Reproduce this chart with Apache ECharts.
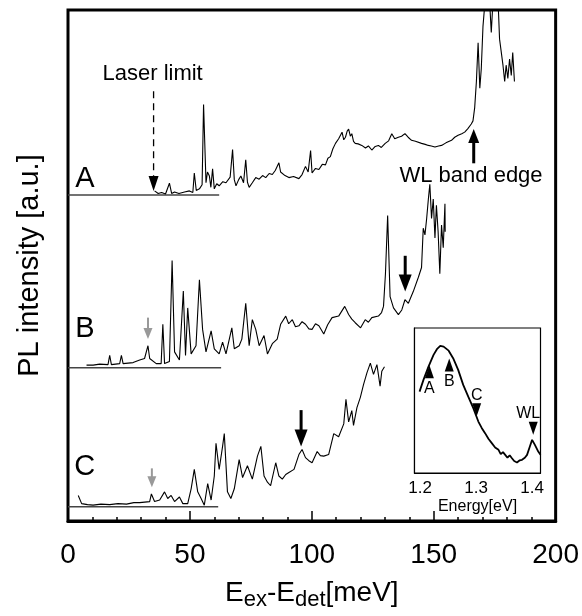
<!DOCTYPE html>
<html><head><meta charset="utf-8">
<script src="https://cdn.jsdelivr.net/npm/echarts@6/dist/echarts.min.js"></script>
<style>html,body{margin:0;padding:0;background:#fff}#c{width:582px;height:616px}</style>
</head><body><div id="c"></div>
<script>
// ---- data (meV, intensity a.u. relative to each trace's baseline) ----
const xTickValues = [0, 50, 100, 150, 200];
const traceNames = ['A', 'B', 'C'];
const traceOffsets = [63.8, 30.0, 2.8];
const baselineEnds = [62, 62.8, 61.6];

const specA = [[35.5,0.8],[37,0.3],[38.4,0.5],[40,0.2],[41.6,2.3],[42.5,0.3],[43.7,0.6],[45.5,0.3],[47.8,0.6],[49.8,0.8],[51.2,0.5],[51.8,4.3],[52.6,0.9],[53.9,1.2],[55.0,2.0],[55.6,17.7],[56.6,2.4],[57.2,4.5],[58.0,3.7],[58.6,1.5],[59.3,5.1],[60.0,1.2],[61,2.2],[62.0,1.8],[63.5,2.6],[64.8,2.4],[66.5,3.5],[67.5,8.9],[68.2,3.0],[68.9,1.8],[70.0,3.0],[70.9,3.7],[72.0,2.4],[72.9,6.9],[73.6,2.5],[74.3,1.5],[75.6,2.4],[77,3.4],[78.4,3.1],[79.8,3.8],[81.1,3.4],[82.5,4.2],[83.8,4.0],[85,4.8],[86.5,6.3],[87.2,4.5],[87.9,4.3],[89,3.8],[90.6,3.4],[92.5,3.6],[94.7,3.2],[96,4.0],[97.4,5.6],[98.5,4.5],[99.5,8.7],[100.1,4.3],[101.5,5.2],[102.9,5.0],[104.3,6.0],[105.6,5.9],[106.6,7.2],[107.6,7.5],[108.6,9.0],[109.7,10.1],[111,11.0],[112.4,12.3],[113.1,10.8],[113.8,11.3],[114.5,12.5],[115.1,12.9],[115.8,11.5],[116.4,12.0],[117.1,10.5],[117.8,10.1],[119,10.0],[120.5,9.7],[122,9.2],[123.2,9.6],[124.6,8.8],[126,9.5],[127.3,9.7],[128.5,9.3],[130.1,10.1],[131.5,10.6],[132.8,12.0],[134,11.0],[135.5,11.3],[136.8,11.5],[138.2,12.0],[139.5,11.3],[140.9,10.7],[142.5,10.5],[145.0,10.1],[146.5,9.9],[147.8,9.7],[149,9.6],[150.5,9.4],[152,9.6],[153.2,9.7],[155,10.2],[157.3,10.7],[158.6,11.3],[160.0,11.7],[161.5,12.0],[162.7,12.3],[164,13.0],[165.4,13.9],[166.1,14.5],[166.8,17.1],[167.5,22.2],[168.2,29.8],[168.9,20.9],[169.5,24.7],[170.2,33.0],[170.9,37.1],[172.2,41],[172.9,38],[173.6,31.8],[174.3,38],[176.3,39],[177.0,30.5],[178.4,25.4],[179.1,22.2],[179.7,25.4],[180.4,22.8],[181.1,26.6],[181.8,23.4],[182.4,27.9],[183.1,22.2]];

const specB = [[7.6,0.5],[10.3,0.5],[13,0.7],[16.4,0.6],[17.1,2.4],[17.8,0.6],[21.2,0.8],[21.9,2.4],[22.6,0.8],[26.7,1.0],[29.4,1.5],[31.4,1.8],[32.8,4.3],[33.5,1.8],[36.2,0.8],[38.2,0.8],[38.9,8.5],[39.6,0.8],[41.6,1.2],[42.7,21.0],[43.7,3.1],[45.7,1.5],[47.3,15.0],[48.2,2.4],[49.1,11.7],[50.5,2.7],[52.5,4.3],[53.9,17.2],[55.2,7.5],[56.6,3.1],[58.7,7.2],[60.0,3.7],[62.0,2.7],[63.4,5.0],[64.8,2.7],[67.2,7.8],[68.2,3.7],[70.2,4.3],[71.3,5.6],[72.9,12.6],[74.3,4.3],[75.6,9.4],[77.0,7.5],[78.4,4.3],[80.4,6.3],[81.8,2.7],[83.8,4.7],[85.8,5.6],[87.2,8.5],[89.3,10.1],[90.5,8.6],[92.0,9.4],[93.3,8.0],[94.7,8.2],[96,9.0],[97.4,8.5],[98.8,7.6],[100.1,7.5],[101.5,8.6],[102.9,8.2],[104.9,6.6],[106.5,8.4],[108.3,9.8],[111.0,10.1],[113.5,12.0],[115.1,10.4],[116.4,9.5],[117.8,8.8],[120.0,7.8],[121.9,9.4],[123.2,8.9],[124.6,9.8],[127.3,10.1],[128.6,10.8],[129.4,12.0],[130.2,18.4],[131.1,29.8],[132.1,13.9],[133.5,11.7],[135.5,10.4],[136.9,11.3],[138.2,13.3],[139.6,12.6],[141.6,14.9],[143.7,17.7],[145.0,19.6],[145.7,27.3],[146.4,26.0],[147.1,29.2],[147.8,33.0],[148.4,35.9],[149.1,29.2],[149.8,33.0],[150.5,25.4],[151.1,31.8],[151.8,26.6],[152.5,18.4],[153.2,27.9],[153.9,23.5],[154.6,32.1],[154.7,26.6]];

const specC = [[4.2,2.2],[5.6,0.6],[8,0.4],[10.3,0.3],[13.5,0.5],[17.1,0.4],[20.5,0.6],[24.0,0.5],[27,0.8],[29.4,0.8],[33.5,1.0],[34.2,2.5],[35.5,1.0],[37.6,1.3],[39.6,2.9],[40.9,1.6],[42.3,2.2],[43.7,1.0],[45.7,1.9],[47.1,0.6],[49.1,0.6],[50.5,3.5],[51.8,7.3],[53.2,2.9],[54.6,1.6],[55.9,0.3],[57.3,4.5],[58.7,1.3],[60.0,6.0],[60.7,12.4],[62.0,7.3],[63.4,11.8],[64.1,14.3],[65.4,2.9],[66.8,1.6],[68.2,3.5],[70.2,9.2],[71.6,5.7],[73.6,8.0],[75.6,5.4],[77.7,9.9],[79.1,11.8],[80.4,6.0],[81.8,4.8],[83.1,4.1],[85.2,8.6],[86.5,6.0],[87.9,5.4],[89.3,6.3],[90.6,6.7],[92.7,7.3],[94.7,10.2],[96.0,11.2],[97.4,9.6],[98.8,9.0],[100.1,8.6],[102.2,10.8],[103.5,10.0],[104.9,9.9],[106.9,10.2],[109.0,14.3],[111.0,13.7],[113.1,16.2],[114.0,21.0],[115.1,16.6],[116.4,18.8],[117.1,15.9],[118.5,19.4],[119.9,21.4],[121.2,23.9],[122.6,26.2],[124.0,28.1],[125.3,25.9],[126.7,27.8],[128.0,23.6],[128.7,26.5],[129.8,27.4]];

// annotation arrows: [x (meV), y start, y tip, style]
const arrows = [[35.1, 84.1, 64.6, 0],[166.4, 70.0, 76.7, 1],[138.3, 51.9, 44.9, 2],[32.8, 39.8, 35.6, 3],[95.6, 21.7, 14.6, 2],[34.4, 10.3, 6.6, 3]];
const traceLabelPos = [[6.9, 66.9], [6.9, 37.5], [6.9, 10.5]];
const noteTexts = ['Laser limit', 'WL band edge'];
const notePos = [[34.7, 87.4], [165.3, 67.5]];

// inset: PL spectrum (energy eV, intensity, log scale)
const insetE = [1.199,1.206,1.215,1.224,1.230,1.236,1.242,1.251,1.259,1.268,1.277,1.286,1.295,1.304,1.310,1.316,1.322,1.328,1.334,1.340,1.344,1.348,1.352,1.356,1.360,1.364,1.368,1.373,1.378,1.382,1.387,1.391,1.396,1.400,1.405,1.411,1.415];
const insetI = [25.8,40.3,66.7,104,129,146,142,122,91.6,58.8,33.3,21.3,13.8,8.28,6.5,5.33,4.3,3.65,3.1,2.83,2.4,2.6,2.34,2.1,2.3,2.06,1.85,1.75,1.9,1.94,2.1,2.34,3.21,4.13,3.42,2.65,2.34];
const insetMarkNames = ['A', 'B', 'C', 'WL'];
const insetMarkE = [1.2166, 1.252, 1.301, 1.402];
const insetMarkI = [55, 71, 12.9, 6.44];
const insetMarkUp = [true, true, false, false];
const insetXLabels = [1.2, 1.3, 1.4];
const insetXTicks = [1.2, 1.25, 1.3, 1.35, 1.4];
const insetMajorI = [10, 100];
const insetMinorI = [2,3,4,5,6,7,8,9,20,30,40,50,60,70,80,90,200];

// ---- chart ----
const F = '"Liberation Sans", Arial, sans-serif';
const chart = echarts.init(document.getElementById('c'));
const arrowStyles = [
  {color:'#000', width:1.3, head:[10,15], dash:[7,5]},
  {color:'#000', width:3, head:[11,14], dash:null},
  {color:'#000', width:3, head:[13,17], dash:null},
  {color:'#999', width:2, head:[9,11], dash:null}
];

const series = [];
[specA, specB, specC].forEach((s, i) => {
  series.push({type:'line', xAxisIndex:0, yAxisIndex:0, symbol:'none', clip:true,
    data: s.map(p => [p[0], p[1] + traceOffsets[i]]),
    lineStyle:{color:'#000', width:1.1}, z:3});
  series.push({type:'line', xAxisIndex:0, yAxisIndex:0, symbol:'none',
    data: [[0, traceOffsets[i]], [baselineEnds[i], traceOffsets[i]]],
    lineStyle:{color:'#444', width:1.5}, z:2});
});
series.push({type:'scatter', xAxisIndex:0, yAxisIndex:0, symbolSize:0, itemStyle:{opacity:1},
  data: traceNames.map((n, i) => ({name:n, value:traceLabelPos[i]})),
  label:{show:true, position:'inside', formatter:'{b}', fontFamily:F, fontSize:29, color:'#000'}, z:5});
series.push({type:'scatter', xAxisIndex:0, yAxisIndex:0, symbolSize:0, itemStyle:{opacity:1},
  data: noteTexts.map((n, i) => ({name:n, value:notePos[i]})),
  label:{show:true, position:'inside', formatter:'{b}', fontFamily:F, fontSize:22, color:'#000'}, z:5});
series.push({type:'custom', xAxisIndex:0, yAxisIndex:0, data: arrows, encode:{x:0, y:[1,2]}, z:6,
  renderItem: function (params, api) {
    const st = arrowStyles[api.value(3)];
    const p1 = api.coord([api.value(0), api.value(1)]);
    const p2 = api.coord([api.value(0), api.value(2)]);
    const dir = p2[1] > p1[1] ? 1 : -1;
    const hw = st.head[0] / 2, hh = st.head[1];
    const baseY = p2[1] - dir * hh;
    return {type:'group', children:[
      {type:'line', shape:{x1:p1[0], y1:p1[1], x2:p2[0], y2:baseY + dir},
        style:{stroke:st.color, lineWidth:st.width, lineDash:st.dash}},
      {type:'polygon', shape:{points:[[p2[0], p2[1]], [p2[0]-hw, baseY], [p2[0]+hw, baseY]]},
        style:{fill:st.color}}
    ]};
  }});
series.push({type:'line', xAxisIndex:1, yAxisIndex:1, symbol:'none',
  data: insetE.map((e, i) => [e, Math.log10(insetI[i])]),
  lineStyle:{color:'#000', width:1.8}, z:3});
series.push({type:'scatter', xAxisIndex:1, yAxisIndex:1, z:4,
  data: insetMarkNames.map((n, i) => ({name:n, value:[insetMarkE[i], Math.log10(insetMarkI[i])],
    symbolRotate: insetMarkUp[i] ? 0 : 180,
    label:{position: insetMarkUp[i] ? 'bottom' : 'top', distance: insetMarkUp[i] ? 2 : 0, offset: n === 'WL' ? [-5, 0] : [0, 0]}})),
  symbol:'triangle', symbolSize:[9,13], itemStyle:{color:'#000', opacity:1},
  label:{show:true, formatter:'{b}', fontFamily:F, fontSize:16, color:'#000'}});

const option = {
  animation:false,
  backgroundColor:'#fff',
  grid:[
    {left:68, right:23.5, top:10, bottom:83, show:true, borderColor:'#000', borderWidth:3, containLabel:false},
    {left:414.5, top:328, width:126, height:145, show:true, borderColor:'#000', borderWidth:1.2, backgroundColor:'#fff', z:1}
  ],
  xAxis:[
    {gridIndex:0, type:'value', min:xTickValues[0], max:xTickValues[xTickValues.length-1], interval:50,
      axisLine:{show:true, lineStyle:{color:'#000', width:3}},
      axisTick:{inside:true, length:10, lineStyle:{color:'#000', width:1.5}},
      minorTick:{show:true, splitNumber:5, length:4, lineStyle:{color:'#000', width:1.5}},
      splitLine:{show:false}, minorSplitLine:{show:false},
      axisLabel:{fontFamily:F, fontSize:28, color:'#000', margin:20},
      name:'{m|E}{s|ex}{m|-E}{s|det}{m|[meV]}', nameLocation:'middle', nameGap:58,
      nameTextStyle:{fontFamily:F, color:'#000', rich:{
        m:{fontFamily:F, fontSize:28, color:'#000', verticalAlign:'top', lineHeight:28},
        s:{fontFamily:F, fontSize:22, color:'#000', verticalAlign:'top', lineHeight:22, padding:[10,0,0,0]}}}},
    {gridIndex:1, type:'value', min:1.19, max:1.415,
      axisLine:{show:true, lineStyle:{color:'#000', width:1.2}},
      axisTick:{inside:true, length:4, customValues:insetXTicks, lineStyle:{color:'#000', width:1}},
      splitLine:{show:false},
      axisLabel:{customValues:insetXLabels, formatter: v => v.toFixed(1), fontFamily:F, fontSize:17, color:'#000', margin:7},
      name:'Energy[eV]', nameLocation:'middle', nameGap:26,
      nameTextStyle:{fontFamily:F, fontSize:16, color:'#000'}}
  ],
  yAxis:[
    {gridIndex:0, type:'value', min:0, max:100,
      axisLine:{show:false}, axisTick:{show:false}, axisLabel:{show:false}, splitLine:{show:false},
      name:'PL intensity [a.u.]', nameLocation:'middle', nameGap:24,
      nameTextStyle:{fontFamily:F, fontSize:29, color:'#000'}},
    {gridIndex:1, type:'value', min:0.07, max:2.46, position:'left',
      axisLine:{show:true, lineStyle:{color:'#000', width:1.2}},
      axisTick:{inside:true, length:5, customValues:insetMajorI.map(Math.log10), lineStyle:{color:'#000', width:1}},
      axisLabel:{show:false}, splitLine:{show:false}},
    {gridIndex:1, type:'value', min:0.07, max:2.46, position:'left',
      axisLine:{show:false},
      axisTick:{inside:true, length:3, customValues:insetMinorI.map(Math.log10), lineStyle:{color:'#000', width:1}},
      axisLabel:{show:false}, splitLine:{show:false}}
  ],
  series: series
};
chart.setOption(option);
</script></body></html>
